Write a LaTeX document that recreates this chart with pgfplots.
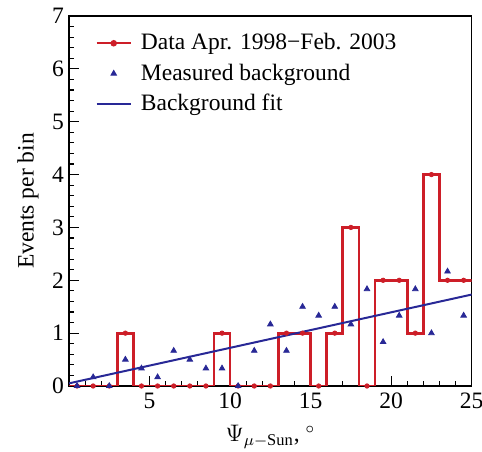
\documentclass[border=0pt]{standalone}
\usepackage{fontspec}
\setmainfont{Liberation Serif}
\usepackage{pgfplots}
\pgfplotsset{compat=1.18}
\definecolor{dred}{RGB}{205,30,40}
\definecolor{dblue}{RGB}{40,40,150}
\begin{document}%
\begin{tikzpicture}[font=\fontsize{11.8}{14}\selectfont]
\begin{axis}[
  scale only axis, width=201.35bp, height=185bp,
  xmin=0, xmax=25, ymin=0, ymax=7,
  xtick={0,5,...,25}, xticklabels={,5,10,15,20,25},
  ytick={0,1,...,7},
  minor x tick num=4, minor y tick num=4,
  tick align=inside, xtick pos=left, ytick pos=left,
  major tick length=4.8bp, minor tick length=2.4bp,
  every tick/.style={black, line width=0.6bp},
  axis line style={line width=0.6bp},
  /pgf/number format/assume math mode=true,
  tick label style={font=\fontsize{11.8}{14}\selectfont},
  yticklabel style={xshift=1bp},
  label style={font=\fontsize{11.8}{14}\selectfont},
  xlabel={$\Psi_{\mu-\mathrm{Sun}}$, $^\circ$},
  xlabel style={yshift=-1.5bp},
  ylabel={Events per bin},
  legend style={draw=none, fill=none, at={(0.05,0.975)}, anchor=north west,
    font=\fontsize{11.8}{14}\selectfont, row sep=1.5bp, column sep=2.5bp},
  legend cell align=left,
]
\addlegendimage{dred, line width=1.2bp, mark=*, mark size=1bp}
\addlegendentry{Data Apr. 1998−Feb. 2003}
\addlegendimage{only marks, dblue, mark=triangle*, mark size=1.6bp}
\addlegendentry{Measured background}
\addlegendimage{dblue, line width=1bp}
\addlegendentry{Background fit}
% step outline at bin edges
\addplot[dred, line width=1.4bp, const plot, forget plot] coordinates {
(0,0) (1,0) (2,0) (3,1) (4,0) (5,0) (6,0) (7,0) (8,0) (9,1) (10,0) (11,0) (12,0)
(13,1) (14,1) (15,0) (16,1) (17,3) (18,0) (19,2) (20,2) (21,1) (22,4) (23,2) (24,2) (25,2)};
% data points at bin centres
\addplot[only marks, dred, mark=*, mark size=1.1bp, forget plot] coordinates {
(0.5,0) (1.5,0) (2.5,0) (3.5,1) (4.5,0) (5.5,0) (6.5,0) (7.5,0) (8.5,0) (9.5,1) (10.5,0) (11.5,0) (12.5,0)
(13.5,1) (14.5,1) (15.5,0) (16.5,1) (17.5,3) (18.5,0) (19.5,2) (20.5,2) (21.5,1) (22.5,4) (23.5,2) (24.5,2)};
% measured background
\addplot[only marks, dblue, mark=triangle*, mark size=1.6bp, forget plot] coordinates {
(0.5,0) (1.5,0.167) (2.5,0) (3.5,0.5) (4.5,0.333) (5.5,0.167) (6.5,0.667) (7.5,0.5) (8.5,0.333)
(9.5,0.333) (10.5,0) (11.5,0.667) (12.5,1.167) (13.5,0.667) (14.5,1.5) (15.5,1.333) (16.5,1.5)
(17.5,1.167) (18.5,1.833) (19.5,0.833) (20.5,1.333) (21.5,1.833) (22.5,1.0) (23.5,2.167) (24.5,1.333)};
% background fit
\addplot[dblue, line width=1bp, forget plot] coordinates {(0,0.05) (25,1.73)};
\end{axis}
\pgfresetboundingbox
\path[use as bounding box] (current axis.south west) ++(-34.5bp,-33bp)
  rectangle ([xshift=5.15bp,yshift=8bp]current axis.north east);
\end{tikzpicture}%
\end{document}
